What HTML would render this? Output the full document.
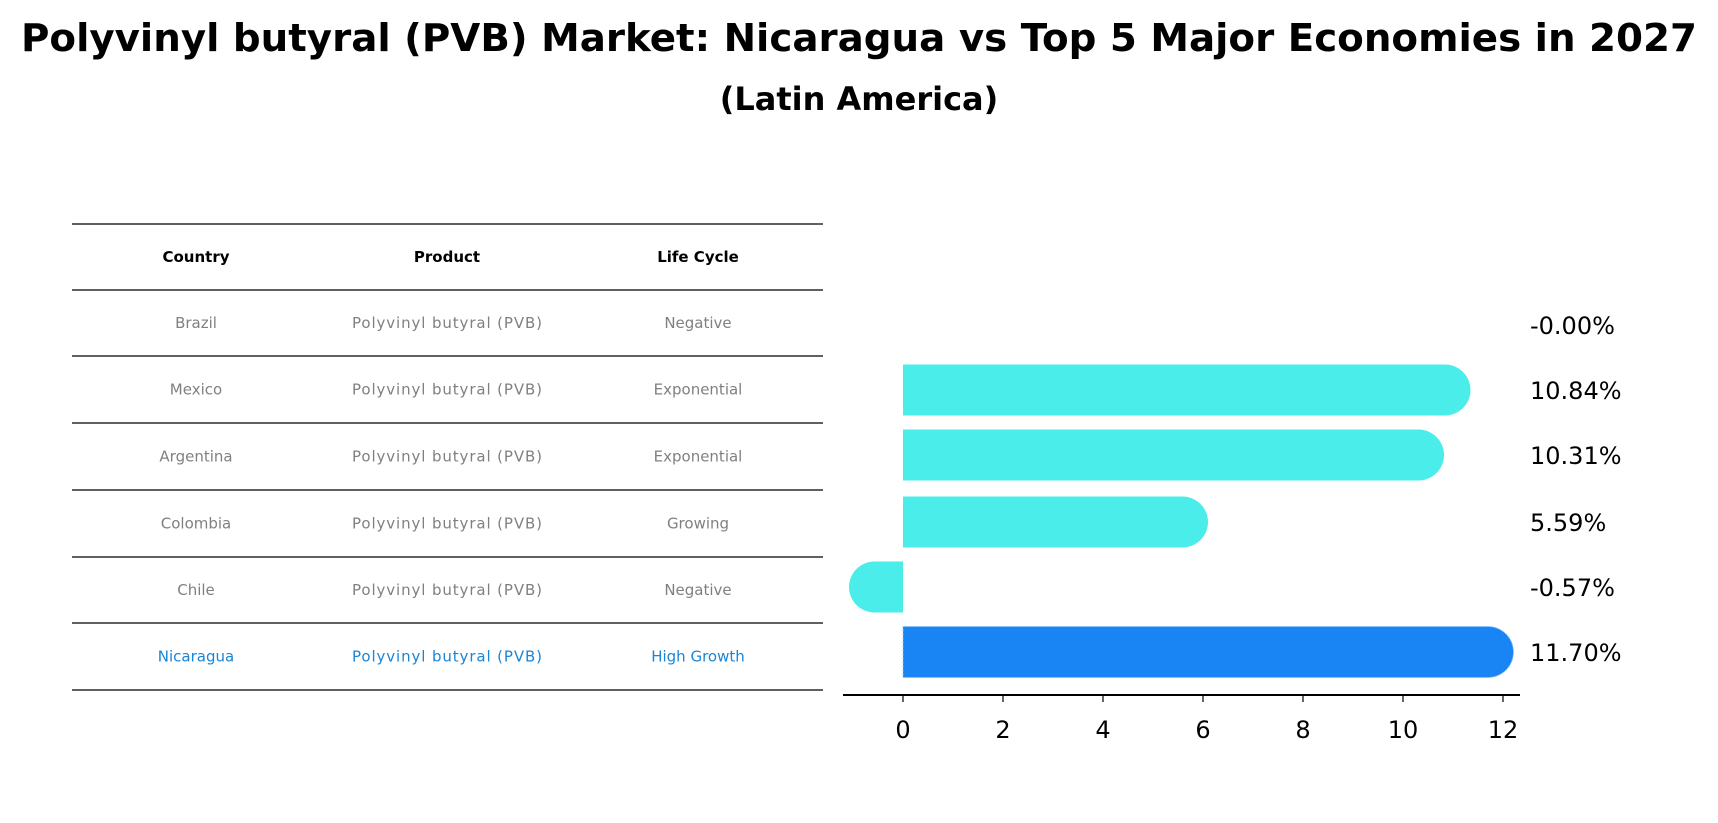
<!DOCTYPE html>
<html><head><meta charset="utf-8"><style>
body{margin:0;background:#fff;}
svg{display:block;font-family:"DejaVu Sans","Liberation Sans",sans-serif;}
</style></head><body>
<svg id="chart" width="1718" height="823" viewBox="0 0 1718 823">
<text x="859" y="51" text-anchor="middle" font-size="38.5" font-weight="bold" textLength="1676" lengthAdjust="spacingAndGlyphs">Polyvinyl butyral (PVB) Market: Nicaragua vs Top 5 Major Economies in 2027</text>
<text x="859" y="110" text-anchor="middle" font-size="32" font-weight="bold">(Latin America)</text>
<g id="table"></g>
<g id="bars"></g>
</svg>
<script>
const countries=["Brazil","Mexico","Argentina","Colombia","Chile","Nicaragua"];
const products=["Polyvinyl butyral (PVB)","Polyvinyl butyral (PVB)","Polyvinyl butyral (PVB)","Polyvinyl butyral (PVB)","Polyvinyl butyral (PVB)","Polyvinyl butyral (PVB)"];
const lifeCycles=["Negative","Exponential","Exponential","Growing","Negative","High Growth"];
const growth=[-0.00,10.84,10.31,5.59,-0.57,11.70];
const xTicks=[0,2,4,6,8,10,12];
const NS="http://www.w3.org/2000/svg";
function mk(t,a,p){const e=document.createElementNS(NS,t);for(const k in a)e.setAttribute(k,a[k]);p.appendChild(e);return e;}
const tbl=document.getElementById('table');
const lineY=[224,290,356,423,490,557,623,690];
lineY.forEach(y=>{const l=mk('line',{x1:72,x2:823,y1:y,y2:y,stroke:'#000','stroke-width':1.2},tbl);

});
const colX=[196,447,698];
["Country","Product","Life Cycle"].forEach((h,i)=>{const t=mk('text',{x:colX[i],y:262,'text-anchor':'middle','font-size':15,'font-weight':'bold'},tbl);t.textContent=h;

});
countries.forEach((c,r)=>{const y=(lineY[r+1]+lineY[r+2])/2+5;const col=r===countries.length-1?'#1a85d6':'#808080';
[c,products[r],lifeCycles[r]].forEach((v,i)=>{const t=mk('text',{x:colX[i],y:y,'text-anchor':'middle','font-size':15,fill:col},tbl);t.textContent=v;
if(i===1)t.setAttribute('textLength','190');

});});
const g=document.getElementById('bars');
const x0=903,unit=50;const X=v=>x0+v*unit;
const rowY=[325,390,455,522,587,652];const bh=51;
growth.forEach((v,i)=>{
 const last=i===growth.length-1;const col=last?'#1985F5':'#4AEDEA';
 if(Math.abs(v)>0.001){
  const xa=X(0),xb=X(v);const y=rowY[i]-bh/2;const r=bh/2;
  let d;
  if(v>0){d=`M${xa},${y}H${xb}A${r},${r} 0 0 1 ${xb},${y+bh}H${xa}Z`;}
  else{d=`M${xa},${y}H${xb}A${r},${r} 0 0 0 ${xb},${y+bh}H${xa}Z`;}
  const p=mk('path',{d:d,fill:col},g);
  if(last){p.setAttribute('stroke','#8fc8ff');p.setAttribute('stroke-dasharray','2,2');p.setAttribute('stroke-width','1');}
  
  
 }
 const t=mk('text',{x:1530,y:rowY[i]+9,'font-size':24},g);t.textContent=v.toFixed(2)+'%';
 if(v===0)t.textContent='-0.00%';
 
 
});
const ax=mk('line',{x1:843,x2:1520,y1:695,y2:695,stroke:'#000','stroke-width':2},g);


xTicks.forEach(v=>{const tk=mk('line',{x1:X(v),x2:X(v),y1:695,y2:702,stroke:'#000','stroke-width':1.2},g);


const t=mk('text',{x:X(v),y:738,'text-anchor':'middle','font-size':24},g);t.textContent=v;

});
</script>
</body></html>
